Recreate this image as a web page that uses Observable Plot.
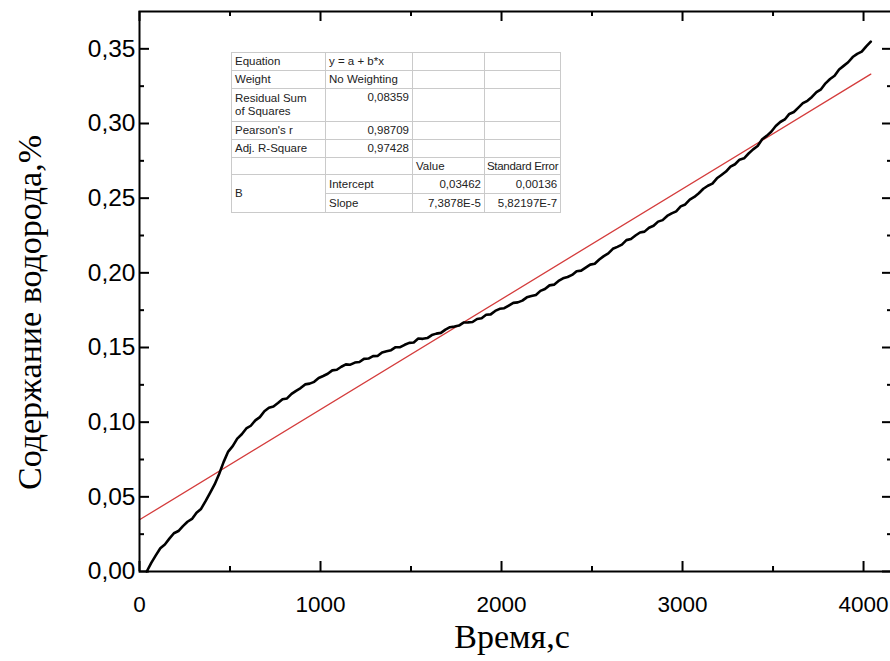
<!DOCTYPE html>
<html>
<head>
<meta charset="utf-8">
<script src="https://cdn.jsdelivr.net/npm/d3@7"></script>
<script src="https://cdn.jsdelivr.net/npm/@observablehq/plot@0.6"></script>
<style>
  html, body { margin: 0; padding: 0; background: #fff; overflow: hidden; }
  #wrap { position: relative; width: 890px; height: 661px; overflow: hidden; }
  #wrap svg { position: absolute; left: 0; top: 0; max-width: none !important; }
  #fit {
    position: absolute; left: 231px; top: 52px;
    border-collapse: collapse; table-layout: fixed;
    font-family: "Liberation Sans", Arial, sans-serif; font-size: 11.5px; color: #222;
    background: #fff; border: 1px solid #8c8c8c;
  }
  #fit td {
    border: 1px solid #cacaca; padding: 0 3px; line-height: 13px;
    white-space: nowrap; overflow: hidden; vertical-align: middle;
  }
  #fit td.num { text-align: right; }
  #fit td.top { vertical-align: top; padding-top: 2px; }
  #fit td.tight { letter-spacing: -0.3px; padding: 0 2px; }
</style>
</head>
<body>
<div id="wrap"></div>
<script>
// Hydrogen content measured over time (s, %)
const timeS = [
  40, 65, 90, 115, 140, 165, 190, 215, 240, 265, 290, 315, 340, 365, 390, 415, 440, 465, 490, 515,
  540, 565, 590, 615, 640, 665, 690, 715, 740, 765, 790, 815, 840, 865, 890, 915, 940, 965, 990, 1015,
  1040, 1065, 1090, 1115, 1140, 1165, 1190, 1215, 1240, 1265, 1290, 1315, 1340, 1365, 1390, 1415, 1440, 1465, 1490, 1515,
  1540, 1565, 1590, 1615, 1640, 1665, 1690, 1715, 1740, 1765, 1790, 1815, 1840, 1865, 1890, 1915, 1940, 1965, 1990, 2015,
  2040, 2065, 2090, 2115, 2140, 2165, 2190, 2215, 2240, 2265, 2290, 2315, 2340, 2365, 2390, 2415, 2440, 2465, 2490, 2515,
  2540, 2565, 2590, 2615, 2640, 2665, 2690, 2715, 2740, 2765, 2790, 2815, 2840, 2865, 2890, 2915, 2940, 2965, 2990, 3015,
  3040, 3065, 3090, 3115, 3140, 3165, 3190, 3215, 3240, 3265, 3290, 3315, 3340, 3365, 3390, 3415, 3440, 3465, 3490, 3515,
  3540, 3565, 3590, 3615, 3640, 3665, 3690, 3715, 3740, 3765, 3790, 3815, 3840, 3865, 3890, 3915, 3940, 3965, 3990, 4015,
  4040];
const hydrogen = [
  0.0000, 0.0058, 0.0108, 0.0156, 0.0181, 0.0220, 0.0256, 0.0271, 0.0304, 0.0333,
  0.0352, 0.0394, 0.0419, 0.0471, 0.0527, 0.0583, 0.0653, 0.0734, 0.0803, 0.0839,
  0.0890, 0.0919, 0.0958, 0.0976, 0.1012, 0.1034, 0.1073, 0.1096, 0.1105, 0.1128,
  0.1153, 0.1159, 0.1189, 0.1210, 0.1228, 0.1253, 0.1258, 0.1270, 0.1296, 0.1309,
  0.1324, 0.1347, 0.1351, 0.1371, 0.1387, 0.1385, 0.1399, 0.1403, 0.1424, 0.1426,
  0.1442, 0.1443, 0.1467, 0.1475, 0.1482, 0.1502, 0.1502, 0.1518, 0.1531, 0.1534,
  0.1560, 0.1558, 0.1563, 0.1583, 0.1593, 0.1598, 0.1620, 0.1636, 0.1640, 0.1647,
  0.1667, 0.1668, 0.1671, 0.1691, 0.1696, 0.1719, 0.1722, 0.1745, 0.1759, 0.1763,
  0.1781, 0.1799, 0.1802, 0.1814, 0.1836, 0.1845, 0.1852, 0.1879, 0.1892, 0.1916,
  0.1921, 0.1946, 0.1963, 0.1972, 0.1986, 0.2011, 0.2015, 0.2035, 0.2055, 0.2061,
  0.2089, 0.2112, 0.2130, 0.2161, 0.2174, 0.2189, 0.2219, 0.2227, 0.2250, 0.2270,
  0.2276, 0.2302, 0.2315, 0.2343, 0.2353, 0.2381, 0.2398, 0.2412, 0.2445, 0.2458,
  0.2490, 0.2508, 0.2533, 0.2563, 0.2583, 0.2597, 0.2633, 0.2655, 0.2678, 0.2711,
  0.2727, 0.2758, 0.2767, 0.2799, 0.2827, 0.2849, 0.2894, 0.2917, 0.2945, 0.2983,
  0.3010, 0.3027, 0.3064, 0.3077, 0.3106, 0.3136, 0.3152, 0.3178, 0.3210, 0.3229,
  0.3269, 0.3298, 0.3320, 0.3362, 0.3386, 0.3410, 0.3445, 0.3466, 0.3481, 0.3517,
  0.3548];

// Linear fit y = a + b*x
const fitIntercept = 0.03462;
const fitSlope = 7.3878e-5;
const fitRange = [0, 4040];

// Axes
const xDomain = [0, 4160];
const yDomain = [0, 0.375];
const xMajor = [0, 1000, 2000, 3000, 4000];
const xMinor = [500, 1500, 2500, 3500];
const yMajor = [0, 0.05, 0.10, 0.15, 0.20, 0.25, 0.30, 0.35];
const yMinor = [0.025, 0.075, 0.125, 0.175, 0.225, 0.275, 0.325];
const xTitle = "Время,с";
const yTitle = "Содержание водорода,%";

// Fit statistics table
const statNames = ["Equation", "Weight", "Residual Sum<br>of Squares", "Pearson's r", "Adj. R-Square"];
const statValues = ["y = a + b*x", "No Weighting", "0,08359", "0,98709", "0,97428"];
const paramHeader = ["Value", "Standard Error"];
const paramGroup = "B";
const paramNames = ["Intercept", "Slope"];
const paramValues = ["0,03462", "7,3878E-5"];
const paramErrors = ["0,00136", "5,82197E-7"];

const curve = timeS.map((t, i) => ({t, h: hydrogen[i]}));
const fitLine = fitRange.map(t => ({t, h: fitIntercept + fitSlope * t}));

const W = 900, H = 661;
const mL = 139, mT = 11, mR = 8, mB = 90;
const plotW = W - mL - mR, plotH = H - mT - mB;
const majorLen = 10, minorLen = 5;
const comma = d => d.toFixed(2).replace(".", ",");
const serif = "'Liberation Serif', 'Times New Roman', serif";

const chart = Plot.plot({
  width: W, height: H,
  marginLeft: mL, marginTop: mT, marginRight: mR, marginBottom: mB,
  style: {fontFamily: "'Liberation Sans', Arial, sans-serif", fontSize: "20px", color: "#000", background: "#fff", maxWidth: "none"},
  x: {domain: xDomain},
  y: {domain: yDomain},
  marks: [
    Plot.axisX(xMajor, {tickSize: 0, tickPadding: 25, tickFormat: d => String(d), label: null, fontSize: 22.5}),
    Plot.axisY(yMajor, {tickSize: 0, tickPadding: 4, tickFormat: comma, label: null, fontSize: 24.5}),
    // inward ticks on all four sides
    Plot.ruleX(xMajor, {x: d => d, insetTop: plotH - majorLen, strokeWidth: 2}),
    Plot.ruleX(xMinor, {x: d => d, insetTop: plotH - minorLen, strokeWidth: 2}),
    Plot.ruleX(xMajor, {x: d => d, insetBottom: plotH - majorLen, strokeWidth: 2}),
    Plot.ruleX(xMinor, {x: d => d, insetBottom: plotH - minorLen, strokeWidth: 2}),
    Plot.ruleY(yMajor, {y: d => d, insetRight: plotW - majorLen, strokeWidth: 2}),
    Plot.ruleY(yMinor, {y: d => d, insetRight: plotW - minorLen, strokeWidth: 2}),
    Plot.ruleY(yMajor, {y: d => d, insetLeft: plotW - majorLen, strokeWidth: 2}),
    Plot.ruleY(yMinor, {y: d => d, insetLeft: plotW - minorLen, strokeWidth: 2}),
    Plot.line(fitLine, {x: "t", y: "h", stroke: "#d43c3c", strokeWidth: 1.3}),
    Plot.line(curve, {x: "t", y: "h", stroke: "#000", strokeWidth: 2.6, strokeLinejoin: "round"}),
    Plot.frame({stroke: "#000", strokeWidth: 2}),
    Plot.text([xTitle], {frameAnchor: "bottom", dx: -4, dy: 76, textAnchor: "middle", fontFamily: serif, fontSize: 34, fill: "#000"}),
    Plot.text([yTitle], {frameAnchor: "left", dx: -109, dy: 21, rotate: -90, textAnchor: "middle", fontFamily: serif, fontSize: 34, fill: "#000"})
  ]
});

const wrap = document.getElementById("wrap");
wrap.appendChild(chart);

// Build the fit statistics table
const colW = [94, 87, 72, 73];
const rowH = [18, 18, 33, 18, 18, 17, 19, 19];
let html = `<table id="fit"><colgroup>${colW.map(w => `<col style="width:${w}px">`).join("")}</colgroup>`;
statNames.forEach((name, i) => {
  const isNum = /^\d/.test(statValues[i]);
  const cls = (isNum ? "num" : "") + (i === 2 ? " top" : "");
  html += `<tr style="height:${rowH[i]}px"><td>${name}</td><td class="${cls}">${statValues[i]}</td><td></td><td></td></tr>`;
});
html += `<tr style="height:${rowH[5]}px"><td></td><td></td><td>${paramHeader[0]}</td><td class="tight">${paramHeader[1]}</td></tr>`;
paramNames.forEach((name, i) => {
  html += `<tr style="height:${rowH[6 + i]}px">` +
    (i === 0 ? `<td rowspan="2">${paramGroup}</td>` : "") +
    `<td>${name}</td><td class="num">${paramValues[i]}</td><td class="num">${paramErrors[i]}</td></tr>`;
});
html += `</table>`;
wrap.insertAdjacentHTML("beforeend", html);
</script>
</body>
</html>
